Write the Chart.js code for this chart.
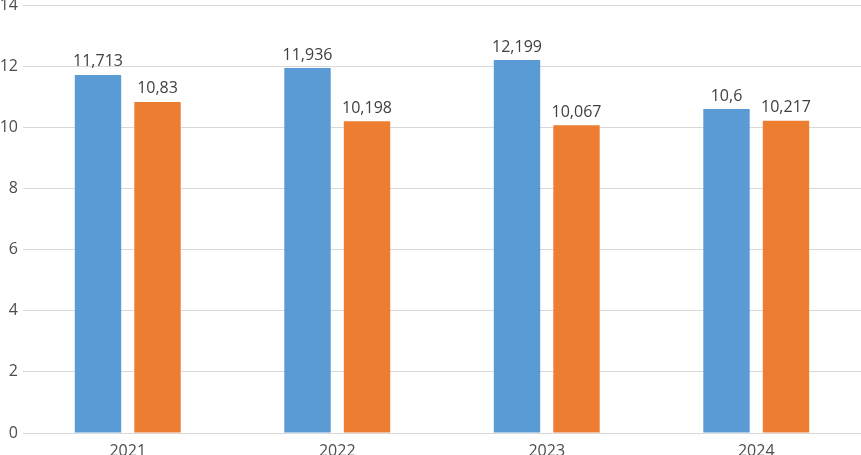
<!DOCTYPE html>
<html>
<head>
<meta charset="utf-8">
<script src="https://cdn.jsdelivr.net/npm/chart.js@4"></script>
<style>
html,body{margin:0;padding:0;background:#fff;}
#wrap{width:861px;height:455px;}
</style>
</head>
<body>
<div id="wrap"><canvas id="c" width="861" height="455"></canvas></div>
<script>
const years = ['2021', '2022', '2023', '2024'];
const seriesA = [11.713, 11.936, 12.199, 10.6];
const seriesB = [10.83, 10.198, 10.067, 10.217];
const yTicks = [0, 2, 4, 6, 8, 10, 12, 14];

const txt = '#4d4d4d';
const fontFam = '"Open Sans", sans-serif';

// labels above bars, comma as decimal mark
const barLabels = {
  id: 'barLabels',
  afterDatasetsDraw(chart){
    const c = chart.ctx;
    c.save();
    c.font = '16px ' + fontFam;
    c.fillStyle = '#404040';
    c.textAlign = 'center';
    c.textBaseline = 'bottom';
    chart.data.datasets.forEach((ds, i) => {
      chart.getDatasetMeta(i).data.forEach((bar, j) => {
        c.fillText(String(ds.data[j]).replace('.', ','), bar.x, bar.y - 5);
      });
    });
    c.restore();
  }
};

new Chart(document.getElementById('c'), {
  type: 'bar',
  data: {
    labels: years,
    datasets: [
      {data: seriesA, backgroundColor: '#5B9BD5', categoryPercentage: 0.568, barPercentage: 0.78},
      {data: seriesB, backgroundColor: '#ED7D31', categoryPercentage: 0.568, barPercentage: 0.78}
    ]
  },
  options: {
    responsive: false,
    animation: false,
    layout: {padding: {top: 5, right: 0, left: 0, bottom: 0}},
    plugins: {legend: {display: false}, tooltip: {enabled: false}},
    scales: {
      x: {
        grid: {display: false},
        border: {display: false},
        ticks: {color: txt, font: {family: fontFam, size: 16}, padding: 1},
        afterFit(s){ s.height = 22; s.paddingLeft = 0; s.paddingRight = 0; }
      },
      y: {
        min: 0, max: 14,
        afterBuildTicks(s){ s.ticks = yTicks.map(v => ({value: v})); },
        grid: {color: '#d9d9d9', drawTicks: false},
        border: {display: false},
        ticks: {color: txt, font: {family: fontFam, size: 16}, padding: 5},
        afterFit(s){ s.width = 23; s.paddingTop = 0; s.paddingBottom = 0; }
      }
    }
  },
  plugins: [barLabels]
});
</script>
</body>
</html>
